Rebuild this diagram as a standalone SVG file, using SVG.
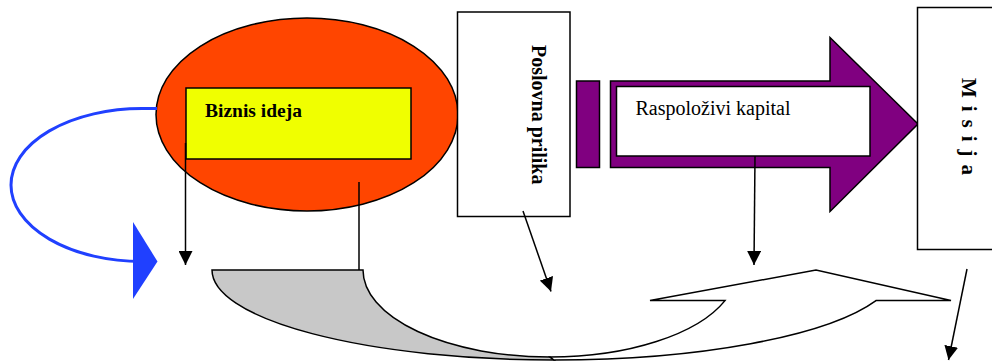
<svg xmlns="http://www.w3.org/2000/svg" width="992" height="362" viewBox="0 0 992 362">
<style>
.ln{stroke:#000;stroke-width:1.5;fill:none}
.bx{fill:#fff;stroke:#000;stroke-width:1.5}
.pu{fill:#800080;stroke:#000;stroke-width:1.5}
.t{font-family:"Liberation Serif","Times New Roman",serif;fill:#000}
</style>
<defs>
<marker id="ah" viewBox="0 0 14 14" refX="14" refY="7" markerWidth="14" markerHeight="14" orient="auto" markerUnits="userSpaceOnUse">
<path d="M0,0 L14,7 L0,14 z" fill="#000"/>
</marker>
</defs>
<rect width="992" height="362" fill="#fff"/>
<g id="uturn">
<path d="M212,270 L363,270 A187,87 0 0 0 550,357 L554,360 A342,90 0 0 1 212,270 Z" fill="#c8c8c8" stroke="#000" stroke-width="1.5"/>
<path d="M550,357 A187,87 0 0 0 725,300.6 L650,300.6 L816,270 L951,300.6 L876,300.6 A342,90 0 0 1 554,360 Z" fill="#fff" stroke="#000" stroke-width="1.5"/>
</g>
<g id="biznis">
<ellipse cx="307" cy="114.5" rx="151" ry="96.5" fill="#ff4500" stroke="#000" stroke-width="1.5"/>
<rect x="186" y="88" width="225" height="71" fill="#f0ff00" stroke="#000" stroke-width="1.5"/>
<text class="t" x="205" y="116.5" font-size="19.5" font-weight="bold">Biznis ideja</text>
</g>
<g id="poslovna">
<rect class="bx" x="457.5" y="12" width="112.5" height="204.5"/>
<text class="t" transform="translate(532,45) rotate(90)" font-size="20" font-weight="bold">Poslovna prilika</text>
</g>
<g id="kapital">
<rect class="pu" x="576.5" y="81" width="23" height="86.5"/>
<path class="pu" d="M610.5,81 L830,81 L830,37.5 L918,124 L830,211.5 L830,167.5 L610.5,167.5 Z"/>
<rect class="bx" x="616.5" y="86.5" width="253.5" height="69.5"/>
<text class="t" x="635.5" y="115" font-size="20">Raspoloživi kapital</text>
</g>
<g id="misija">
<rect class="bx" x="917.5" y="7.5" width="90" height="242"/>
<text class="t" transform="translate(962,78) rotate(90)" font-size="21" font-weight="bold" textLength="97" lengthAdjust="spacing">M i s i j a</text>
</g>
<g id="connectors">
<path d="M157,108.5 L142,108.5 A131,76.5 0 0 0 142,261.5 L136,261.5" fill="none" stroke="#2040ff" stroke-width="3"/>
<path d="M133,222 L157.5,261.5 L133,299 Z" fill="#2040ff"/>
<line class="ln" x1="185.5" y1="143" x2="185.5" y2="265" marker-end="url(#ah)"/>
<line class="ln" x1="359" y1="182" x2="359" y2="270"/>
<line class="ln" x1="523" y1="211" x2="551" y2="291.5" marker-end="url(#ah)"/>
<line class="ln" x1="755" y1="156" x2="754" y2="265" marker-end="url(#ah)"/>
<line class="ln" x1="967" y1="269" x2="948.5" y2="360" marker-end="url(#ah)"/>
</g>
</svg>
